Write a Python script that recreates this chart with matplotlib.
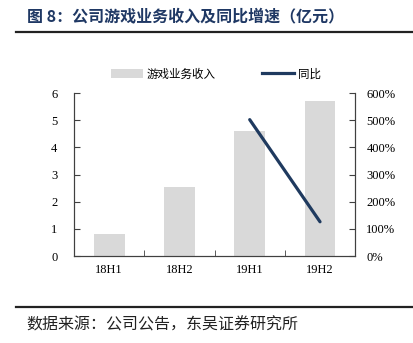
import matplotlib
matplotlib.use("Agg")
import matplotlib.pyplot as plt
from matplotlib.lines import Line2D
from matplotlib.patches import Patch
import numpy as np

categories = ["18H1", "18H2", "19H1", "19H2"]
revenue = [0.82, 2.53, 4.61, 5.69]
yoy_cats = ["19H1", "19H2"]
yoy = [5.02, 1.26]  # 502%, 126%
left_ticks = [0, 1, 2, 3, 4, 5, 6]
right_ticks = [0, 1, 2, 3, 4, 5, 6]
right_labels = ["0%", "100%", "200%", "300%", "400%", "500%", "600%"]

cjk = ["Noto Sans CJK SC", "DejaVu Sans"]
serif = ["Liberation Serif", "DejaVu Serif"]

fig = plt.figure(figsize=(4.13, 3.43), dpi=100)
ax = fig.add_axes([0.179, 0.2536, 0.681, 0.4752])

x = np.arange(len(categories))
ax.bar(x, revenue, width=0.44, color="#D9D9D9", zorder=1)
ax.set_xlim(-0.5, 3.5)
ax.set_ylim(0, 6)
ax.set_yticks(left_ticks)
ax.set_xticks(x)
ax.set_xticklabels(categories)
ax.set_xticks([0.5, 1.5, 2.5], minor=True)
ax.tick_params(axis="x", which="major", length=0, pad=6)
ax.tick_params(axis="x", which="minor", length=4, direction="in", color="#404040")
ax.tick_params(axis="y", direction="in", length=4, color="#404040", pad=12)
for lab in ax.get_xticklabels() + ax.get_yticklabels():
    lab.set_family(serif)
    lab.set_fontsize(9)

ax2 = ax.twinx()
xi = [categories.index(c) for c in yoy_cats]
ax2.plot(xi, yoy, color="#1F3A5F", lw=2.3, solid_capstyle="round", zorder=3)
ax2.set_ylim(0, 6)
ax2.set_yticks(right_ticks)
ax2.set_yticklabels(right_labels)
ax2.tick_params(axis="y", direction="in", length=4, color="#404040", pad=8)
for lab in ax2.get_yticklabels():
    lab.set_family(serif)
    lab.set_fontsize(9)

for a in (ax, ax2):
    a.spines["top"].set_visible(False)
    for s in ("left", "right", "bottom"):
        a.spines[s].set_color("#404040")
        a.spines[s].set_linewidth(0.8)

handles = [Patch(facecolor="#D9D9D9", edgecolor="none"),
           Line2D([0], [0], color="#1F3A5F", lw=2.3)]
leg = fig.legend(handles, ["游戏业务收入", "同比"], loc="center",
                 bbox_to_anchor=(0.523, 1 - 74 / 343), ncol=2, frameon=False,
                 prop={"family": cjk, "size": 8.3}, handlelength=2.8,
                 handleheight=0.8, handletextpad=0.3, columnspacing=4.0)

fig.text(27 / 413, 1 - 16 / 343, "图 8：公司游戏业务收入及同比增速（亿元）",
         family=cjk, fontsize=11.5, fontweight="bold", color="#1F3864",
         va="center", ha="left")
fig.add_artist(Line2D([16 / 413, 1.0], [1 - 32 / 343] * 2, color="#222222", lw=1.6))
fig.add_artist(Line2D([16 / 413, 1.0], [1 - 307 / 343] * 2, color="#222222", lw=1.6))
fig.text(26 / 413, 1 - 325 / 343, "数据来源：公司公告，东吴证券研究所",
         family=cjk, fontsize=11.5, color="#222222", va="center", ha="left")

fig.savefig("out.png", dpi=100)
